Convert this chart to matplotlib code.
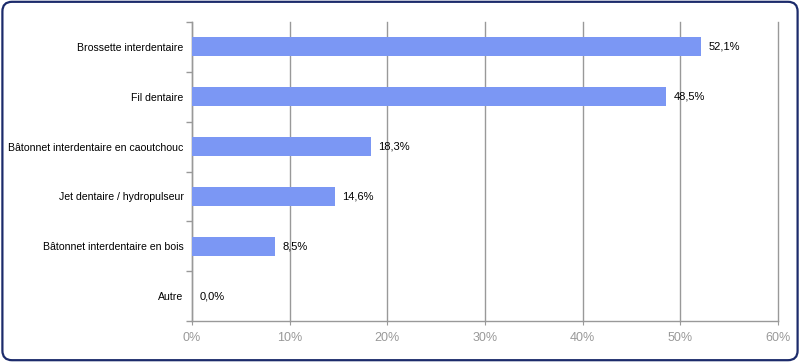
import matplotlib
matplotlib.use("Agg")
import matplotlib.pyplot as plt
from matplotlib.patches import FancyBboxPatch
from matplotlib.ticker import FixedLocator

categories = ["Brossette interdentaire", "Fil dentaire", "Bâtonnet interdentaire en caoutchouc",
              "Jet dentaire / hydropulseur", "Bâtonnet interdentaire en bois", "Autre"]
values = [52.1, 48.5, 18.3, 14.6, 8.5, 0.0]
value_labels = ["52,1%", "48,5%", "18,3%", "14,6%", "8,5%", "0,0%"]
xticks = [0, 10, 20, 30, 40, 50, 60]
xtick_labels = ["0%", "10%", "20%", "30%", "40%", "50%", "60%"]

plt.rcParams['font.family'] = ['Liberation Sans', 'DejaVu Sans']

fig = plt.figure(figsize=(8.0, 3.62), dpi=100)
border = FancyBboxPatch((0.003, 0.005), 0.994, 0.99, boxstyle="round,pad=0,rounding_size=0.012",
                        transform=fig.transFigure, facecolor='white', edgecolor='#1c2b6b',
                        linewidth=1.6, mutation_aspect=800/362, zorder=-10)
fig.patches.append(border)

ax = fig.add_axes([192/800, 1 - 321/362, (778-192)/800, (321-22)/362])
ax.set_zorder(5)
ax.set_facecolor('none')
n = len(categories)
ypos = list(range(n))
ax.barh(ypos, values, height=0.38, color='#7b97f4', zorder=3)
for y, v, lab in zip(ypos, values, value_labels):
    ax.text(v + 0.8, y, lab, va='center', ha='left', fontsize=8, color='black', zorder=4)

ax.set_xlim(0, 60)
ax.set_ylim(n - 0.5, -0.5)
ax.set_yticks(ypos)
ax.set_yticklabels(categories, fontsize=7.6)
ax.tick_params(axis='y', which='major', length=0, pad=6)
ax.yaxis.set_minor_locator(FixedLocator([i - 0.5 for i in range(n + 1)]))
ax.tick_params(axis='y', which='minor', length=4, color='#999999', width=1)
ax.set_xticks(xticks)
ax.set_xticklabels(xtick_labels, fontsize=9, color='#999999')
ax.tick_params(axis='x', length=3, color='#999999', pad=5)
ax.grid(axis='x', color='#999999', linewidth=1, zorder=0)
for gl in ax.get_xgridlines():
    gl.set_clip_on(False)
for s in ['top', 'right']:
    ax.spines[s].set_visible(False)
ax.spines['left'].set_color('#999999')
ax.spines['bottom'].set_color('#999999')
ax.spines['left'].set_linewidth(1)
ax.spines['bottom'].set_linewidth(1)

fig.savefig('out.png', dpi=100)
